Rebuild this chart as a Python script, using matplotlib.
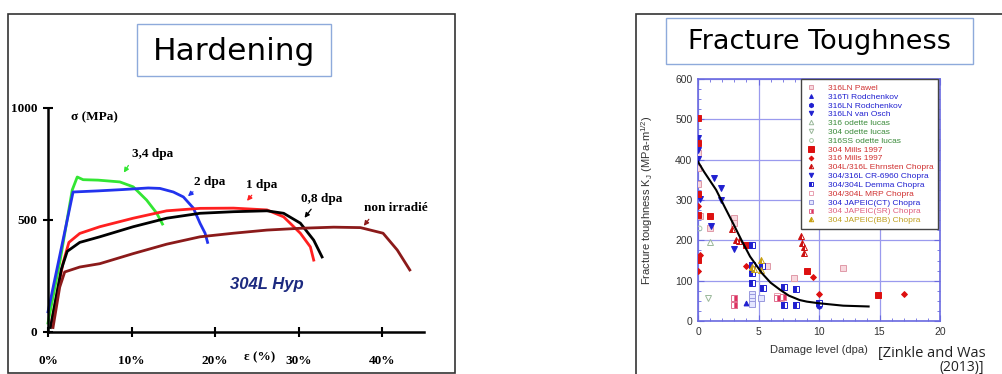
import matplotlib.pyplot as plt
from matplotlib.patches import Rectangle
from matplotlib.ticker import MultipleLocator

W, H = 1002, 374

# ---- Hardening: stress-strain curves (strain %, stress MPa) ----
green_x = [0, 1.5, 2.9, 3.5, 4.2, 6.0, 8.6, 10.2, 11.8, 13.0, 13.7]
green_y = [40, 330, 634, 692, 680, 678, 670, 648, 589, 531, 482]
blue_x = [0, 3.0, 6.0, 9.0, 12.0, 13.4, 15.0, 16.2, 17.4, 18.2, 18.8, 19.1]
blue_y = [90, 625, 630, 636, 643, 641, 625, 603, 553, 485, 441, 400]
red_x = [0.4, 1.8, 2.5, 3.8, 6.2, 10.2, 14.2, 18.2, 22.2, 26.2, 28.2, 30.2, 31.4, 31.8]
red_y = [40, 308, 400, 440, 470, 508, 541, 552, 553, 545, 514, 441, 380, 321]
black_x = [0.3, 1.6, 2.3, 3.8, 6.2, 10.2, 14.2, 18.2, 22.2, 26.2, 28.2, 30.2, 31.8, 32.8]
black_y = [20, 280, 360, 400, 425, 470, 508, 530, 537, 541, 530, 486, 410, 335]
brown_x = [0.6, 1.4, 2.0, 3.8, 6.2, 10.2, 14.2, 18.2, 22.2, 26.2, 30.2, 34.2, 37.4, 40.1, 41.8, 43.3]
brown_y = [20, 200, 268, 290, 305, 350, 392, 425, 441, 455, 463, 468, 466, 441, 366, 277]

curves = [
    (green_x, green_y, '#33e633', '3,4 dpa', (12.5, 795), (9.8, 754), (8.9, 701)),
    (blue_x, blue_y, '#2233ee', '2 dpa', (19.3, 670), (17.6, 634), (16.5, 598)),
    (red_x, red_y, '#ff2020', '1 dpa', (25.6, 656), (24.6, 620), (23.6, 576)),
    (black_x, black_y, 'black', '0,8 dpa', (32.8, 594), (31.7, 558), (30.5, 500)),
    (brown_x, brown_y, '#8b1a1a', 'non irradié', (41.6, 554), (38.6, 513), (37.6, 464)),
]

strain_ticks = [0, 10, 20, 30, 40]
strain_labels = ['0%', '10%', '20%', '30%', '40%']
stress_ticks = [0, 500, 1000]

# ---- Fracture toughness: scatter (dpa, MPa m^1/2) ----
pawel_x = [0, 0, 0, 0.2, 1.0, 3.0, 3.0, 5.7, 7.9, 12.0]
pawel_y = [379, 416, 340, 261, 230, 255, 242, 136, 106, 132]
ti_rod_x = [4.0]
ti_rod_y = [44]
ln_rod_x = [10.0]
ln_rod_y = [38]
osch_x = [0, 0, 0, 0.15]
osch_y = [453, 424, 402, 302]
odette316_x = [1.0]
odette316_y = [197]
odette304_x = [0.8]
odette304_y = [56]
odette316ss_x = [0.1]
odette316ss_y = [231]
mills304_x = [0, 0, 0, 0, 0, 0.96, 3.98, 9.0, 14.9]
mills304_y = [504, 441, 314, 262, 151, 261, 188, 125, 64]
mills316_x = [0, 0, 0.15, 4.0, 9.5, 10.0, 17.0]
mills316_y = [285, 125, 164, 137, 110, 66, 66]
ehrnsten_x = [2.8, 3.1, 3.4, 8.5, 8.6, 8.8, 8.8]
ehrnsten_y = [227, 201, 198, 211, 193, 183, 169]
cr6960_x = [1.3, 1.9, 1.9, 1.1, 3.0]
cr6960_y = [355, 329, 299, 236, 179]
demma_x = [4.5, 4.5, 4.5, 4.5, 5.3, 5.4, 7.1, 7.1, 8.1, 8.1, 10.0]
demma_y = [188, 140, 120, 93, 136, 83, 85, 40, 79, 40, 44]
mrp_x = [6.5, 6.9]
mrp_y = [62, 58]
ct_x = [4.5, 4.5, 4.5, 4.5, 5.2]
ct_y = [67, 59, 50, 42, 56]
sr_x = [3.0, 3.0, 6.5, 7.0]
sr_y = [56, 40, 58, 60]
bb_x = [4.5, 4.6, 5.2, 5.2]
bb_y = [135, 128, 152, 126]

fit_x = [0, 0.5, 1.5, 2.2, 2.9, 3.6, 4.3, 5.3, 6.0, 6.8, 7.5, 8.4, 9.0, 10.0, 12.0, 14.1]
fit_y = [395, 370, 325, 283, 242, 200, 160, 118, 95, 77, 63, 52, 48, 44, 38, 36]

RED, BLUE, GREEN, PINK, OLIVE = '#d03030', '#2020d0', '#3a8a3a', '#e06080', '#c0a020'
series = [
    ('316LN Pawel', pawel_x, pawel_y, dict(marker='s', ms=4, mfc='#f8d8de', mec='#e09aa8'), RED),
    ('316Ti Rodchenkov', ti_rod_x, ti_rod_y, dict(marker='^', ms=3.5, mfc=BLUE, mec=BLUE), BLUE),
    ('316LN Rodchenkov', ln_rod_x, ln_rod_y, dict(marker='h', ms=4, mfc=BLUE, mec=BLUE), BLUE),
    ('316LN van Osch', osch_x, osch_y, dict(marker='v', ms=4, mfc=BLUE, mec=BLUE), BLUE),
    ('316 odette lucas', odette316_x, odette316_y, dict(marker='^', ms=4, mfc='none', mec='#9ab89a'), GREEN),
    ('304 odette lucas', odette304_x, odette304_y, dict(marker='v', ms=4, mfc='none', mec='#9ab89a'), GREEN),
    ('316SS odette lucas', odette316ss_x, odette316ss_y, dict(marker='o', ms=3.5, mfc='none', mec='#a8c8a8'), GREEN),
    ('304 Mills 1997', mills304_x, mills304_y, dict(marker='s', ms=5, mfc='#dd1010', mec='#dd1010'), RED),
    ('316 Mills 1997', mills316_x, mills316_y, dict(marker='D', ms=3, mfc='#dd1010', mec='#dd1010'), RED),
    ('304L/316L Ehrnsten Chopra', ehrnsten_x, ehrnsten_y,
     dict(marker='^', ms=4, mfc='#cc1010', mec='#cc1010', fillstyle='left', markerfacecoloralt='white'), RED),
    ('304/316L CR-6960 Chopra', cr6960_x, cr6960_y, dict(marker='v', ms=4, mfc=BLUE, mec=BLUE), BLUE),
    ('304/304L Demma Chopra', demma_x, demma_y,
     dict(marker='s', ms=4, mfc=BLUE, mec=BLUE, fillstyle='left', markerfacecoloralt='white'), BLUE),
    ('304/304L MRP Chopra', mrp_x, mrp_y, dict(marker='s', ms=4, mfc='none', mec='#e8a0b0'), RED),
    ('304 JAPEIC(CT) Chopra', ct_x, ct_y, dict(marker='s', ms=4, mfc='#e4e6ff', mec='#9999dd'), BLUE),
    ('304 JAPEIC(SR) Chopra', sr_x, sr_y,
     dict(marker='s', ms=4, mfc='#e03060', mec='#e07090', fillstyle='right', markerfacecoloralt='white'), PINK),
    ('304 JAPEIC(BB) Chopra', bb_x, bb_y,
     dict(marker='^', ms=4, mfc='#c8a010', mec='#c8a010', fillstyle='left', markerfacecoloralt='white'), OLIVE),
]


def fx(px):
    return px / W


def fy(py):
    return 1 - py / H


fig = plt.figure(figsize=(W / 100, H / 100), dpi=100)

# slide frames and title boxes
fig.add_artist(Rectangle((fx(8), fy(373)), fx(455) - fx(8), fy(14) - fy(373),
                         transform=fig.transFigure, fill=False, ec='#333333', lw=1.2))
fig.add_artist(Rectangle((fx(636), fy(380)), fx(1010) - fx(636), fy(14) - fy(380),
                         transform=fig.transFigure, fill=False, ec='#333333', lw=1.2))
fig.add_artist(Rectangle((fx(137), fy(76)), fx(331) - fx(137), fy(24) - fy(76),
                         transform=fig.transFigure, fill=False, ec='#8eaadb', lw=1))
fig.add_artist(Rectangle((fx(666), fy(64)), fx(973) - fx(666), fy(18) - fy(64),
                         transform=fig.transFigure, fill=False, ec='#8eaadb', lw=1))
fig.text(fx(234), fy(51), 'Hardening', fontsize=22.5, family='DejaVu Sans', ha='center', va='center')
fig.text(fx(819), fy(42), 'Fracture Toughness', fontsize=19.5, family='DejaVu Sans', ha='center', va='center')

# ---- left panel ----
ax1 = fig.add_axes([fx(48), fy(332), fx(424) - fx(48), fy(108) - fy(332)])
ax1.set_xlim(0, 45)
ax1.set_ylim(0, 1000)
for s in ['top', 'right']:
    ax1.spines[s].set_visible(False)
for s in ['left', 'bottom']:
    ax1.spines[s].set_linewidth(1.8)
ax1.patch.set_alpha(0)
serif = dict(family='Liberation Serif', weight='bold', size=9.5)
ax1.set_xticks(strain_ticks, strain_labels, **serif)
ax1.set_yticks(stress_ticks, [str(v) for v in stress_ticks], **serif)
ax1.tick_params(axis='x', direction='inout', length=7, width=1.5, pad=13)
ax1.tick_params(axis='y', direction='inout', length=7, width=1.5, pad=4)

for xs, ys, col, lab, tpos, tail, head in curves:
    ax1.plot(xs, ys, color=col, lw=2, clip_on=False, solid_joinstyle='round')
    ax1.text(tpos[0], tpos[1], lab, ha='center', va='center', **serif)
    ax1.annotate('', xy=head, xytext=tail,
                 arrowprops=dict(arrowstyle='-|>', color=col, lw=0.9, mutation_scale=7))

ax1.text(5.5, 960, 'σ (MPa)', ha='center', va='center', **serif)
ax1.text(25.3, -112, 'ε (%)', ha='center', va='center', clip_on=False, **serif)
ax1.text(26.2, 210, '304L Hyp', ha='center', va='center', fontsize=12, family='Liberation Sans',
         weight='bold', style='italic', color='#1c2a80')

# ---- right panel ----
ax2 = fig.add_axes([fx(698), fy(321), fx(940) - fx(698), fy(79) - fy(321)])
ax2.set_xlim(0, 20)
ax2.set_ylim(0, 600)
ax2.xaxis.set_major_locator(MultipleLocator(5))
ax2.xaxis.set_minor_locator(MultipleLocator(1))
ax2.yaxis.set_major_locator(MultipleLocator(100))
ax2.yaxis.set_minor_locator(MultipleLocator(25))
ax2.grid(True, which='major', color='#9a9aee', lw=0.9)
for s in ax2.spines.values():
    s.set_color('#6a6ae0')
    s.set_linewidth(1.2)
ax2.tick_params(which='both', direction='in', top=True, right=True, color='#6a6ae0',
                labelsize=7.5, labelcolor='#333333', pad=4)
ax2.tick_params(which='major', length=4)
ax2.tick_params(which='minor', length=2)
for lab in ax2.get_xticklabels() + ax2.get_yticklabels():
    lab.set_family('Liberation Sans')

handles = []
for name, xs, ys, style, tcol in series:
    h, = ax2.plot(xs, ys, ls='none', mew=0.7, label=name, zorder=3, **style)
    handles.append(h)
ax2.plot(fit_x, fit_y, color='black', lw=1.5, zorder=4)

leg = ax2.legend(handles=handles, loc='upper right', bbox_to_anchor=(0.993, 1.0), borderaxespad=0,
                 labelspacing=0.12, handlelength=1.2, handletextpad=1.4, markerscale=0.8,
                 borderpad=0.6, fancybox=False, framealpha=1, edgecolor='#444444',
                 labelcolor=[s[4] for s in series], prop=dict(family='Liberation Sans', size=6))
leg.get_frame().set_linewidth(1)

ax2.set_xlabel('Damage level (dpa)', fontsize=8, family='Liberation Sans', color='#333333', labelpad=6)
ax2.set_ylabel('Fracture toughness K$_\\mathregular{J}$ (MPa-m$^\\mathregular{1/2}$)', fontsize=8,
               family='Liberation Sans', color='#333333')
ax2.yaxis.set_label_coords(-0.178, 0.5)

fig.text(fx(878), fy(354), '[Zinkle and Was', fontsize=10.5, family='Open Sans', va='center', color='#222222')
fig.text(fx(940), fy(367), '(2013)]', fontsize=10, family='Open Sans', va='center', color='#222222')

fig.savefig('out.png', dpi=100)
